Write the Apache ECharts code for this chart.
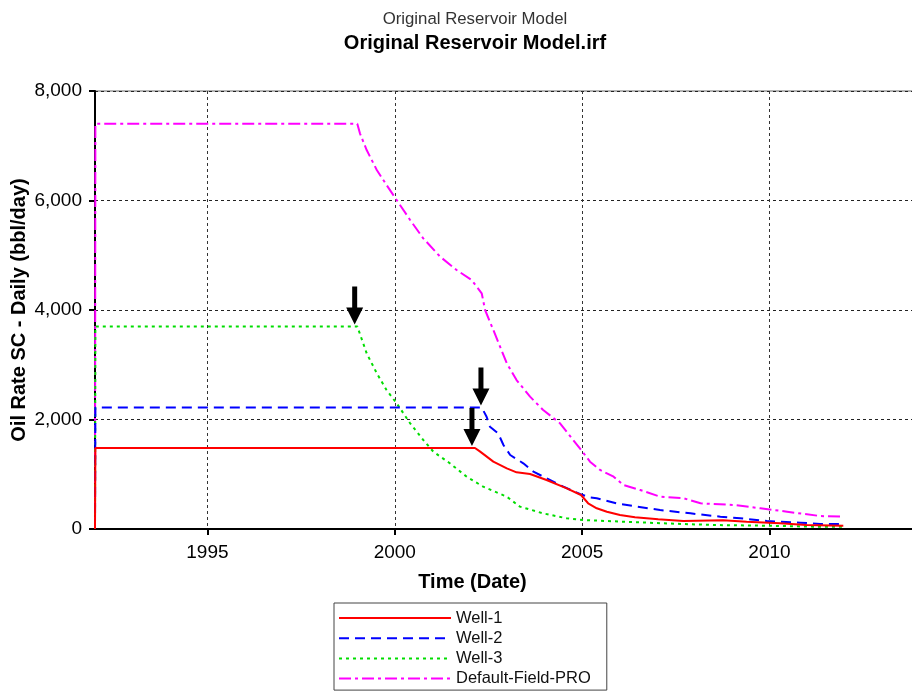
<!DOCTYPE html>
<html>
<head>
<meta charset="utf-8">
<script src="https://cdn.jsdelivr.net/npm/echarts@6/dist/echarts.min.js"></script>
<style>
  html, body { margin: 0; padding: 0; background: #fff; }
  #chart { width: 912px; height: 692px; }
</style>
</head>
<body>
<div id="chart"></div>
<script>
// Oil rate (bbl/day) against decimal year for each well and the field total
const well1 = [
  [1992.0, 0], [1992.01, 1480], [2002.14, 1480], [2002.27, 1417], [2002.63, 1230],
  [2002.99, 1108], [2003.25, 1035], [2003.61, 1005], [2004.05, 895], [2004.59, 743],
  [2004.97, 621], [2005.16, 470], [2005.39, 378], [2005.66, 316], [2006.01, 256],
  [2006.41, 214], [2007.03, 177], [2007.70, 146], [2008.76, 160], [2009.39, 133],
  [2010.28, 104], [2010.99, 73], [2011.97, 61]
];
const well2 = [
  [1992.0, 0], [1992.01, 2220], [2002.32, 2220], [2002.45, 2051], [2002.54, 1869],
  [2002.76, 1747], [2002.90, 1534], [2003.08, 1352], [2003.43, 1200], [2003.70, 1047],
  [2004.05, 926], [2004.50, 773], [2004.94, 639], [2005.21, 575], [2005.39, 560],
  [2005.92, 469], [2006.46, 408], [2007.08, 347], [2007.89, 286], [2008.69, 225],
  [2009.22, 195], [2009.93, 146], [2010.82, 116], [2011.35, 91], [2011.97, 91]
];
const well3 = [
  [1992.0, 0], [1992.01, 3700], [1999.0, 3700], [1999.25, 3209], [1999.52, 2844],
  [1999.78, 2539], [2000.05, 2296], [2000.41, 1931], [2000.76, 1626], [2001.03, 1412],
  [2001.47, 1200], [2001.92, 955], [2002.36, 773], [2002.99, 590], [2003.34, 408],
  [2003.96, 286], [2004.59, 195], [2005.03, 164], [2006.10, 133], [2007.17, 104],
  [2008.50, 73], [2009.84, 61], [2011.17, 43], [2011.96, 40]
];
const fieldTotal = [
  [1992.0, 0], [1992.01, 7400], [1999.0, 7400], [1999.07, 7227], [1999.25, 6922],
  [1999.52, 6557], [1999.78, 6283], [2000.05, 6009], [2000.41, 5644], [2000.76, 5309],
  [2001.21, 4974], [2001.65, 4731], [2002.05, 4548], [2002.32, 4305], [2002.41, 4000],
  [2002.63, 3635], [2002.81, 3330], [2002.99, 3026], [2003.25, 2721], [2003.61, 2417],
  [2003.96, 2174], [2004.41, 1931], [2004.76, 1626], [2005.0, 1420], [2005.21, 1230],
  [2005.48, 1078], [2005.84, 955], [2006.10, 804], [2006.55, 712], [2007.08, 590],
  [2007.71, 560], [2008.16, 469], [2009.05, 438], [2009.76, 378], [2010.47, 316],
  [2011.35, 237], [2011.97, 225]
];

const seriesNames = ['Well-1', 'Well-2', 'Well-3', 'Default-Field-PRO'];
const yearTicks = [1995, 2000, 2005, 2010];

// Points where each well comes off plateau
const onsetWell1 = [2002.06, 1480];
const onsetWell2 = [2002.30, 2220];
const onsetWell3 = [1998.93, 3700];

const arrowPath = 'path://M6,0 L11,0 L11,21 L17,21 L8.5,38 L0,21 L6,21 Z';
function arrowAt(coord) {
  return {
    coord: coord,
    symbol: arrowPath,
    symbolSize: [17, 38],
    symbolOffset: [0, -21],
    symbolKeepAspect: false,
    itemStyle: { color: '#000' },
    label: { show: false }
  };
}

const font = 'Arial, "Liberation Sans", sans-serif';
const chart = echarts.init(document.getElementById('chart'), null, { renderer: 'canvas' });

chart.setOption({
  animation: false,
  backgroundColor: '#fff',
  title: [
    {
      text: 'Original Reservoir Model',
      left: 470, top: 6, textAlign: 'center',
      textStyle: { fontFamily: font, fontSize: 16.8, fontWeight: 'normal', color: '#333' }
    },
    {
      text: 'Original Reservoir Model.irf',
      left: 470, top: 28, textAlign: 'center',
      textStyle: { fontFamily: font, fontSize: 20, fontWeight: 'bold', color: '#000' }
    }
  ],
  grid: {
    left: 95, right: -4, top: 91, bottom: 163,
    outerBoundsMode: 'none',
    show: true, borderColor: '#666', borderWidth: 1, containLabel: false
  },
  legend: {
    orient: 'vertical',
    left: 334, top: 603, height: 120,
    data: seriesNames,
    itemWidth: 112, itemHeight: 14, itemGap: 3.2,
    padding: [6.5, 16, 3, 4],
    borderColor: '#444', borderWidth: 1,
    itemStyle: { color: 'rgba(0,0,0,0)', borderWidth: 0 },
    textStyle: { fontFamily: font, fontSize: 16.5, color: '#111' }
  },
  xAxis: {
    type: 'value',
    min: 1992, max: 2013.91,
    name: 'Time (Date)', nameLocation: 'middle', nameGap: 43,
    nameMoveOverlap: false,
    nameTextStyle: { fontFamily: font, fontSize: 20, fontWeight: 'bold', color: '#000', padding: [0, 66, 0, 0] },
    axisLine: { show: true, onZero: false, lineStyle: { color: '#000', width: 2 } },
    axisTick: { show: true, customValues: yearTicks, length: 6, inside: false, lineStyle: { color: '#000', width: 2 } },
    axisLabel: { customValues: yearTicks, margin: 14, fontFamily: font, fontSize: 19, color: '#000', formatter: v => String(v) },
    splitLine: { show: true, lineStyle: { color: '#333', width: 1, type: [3, 3] } }
  },
  yAxis: {
    type: 'value',
    min: 0, max: 8000, interval: 2000,
    name: 'Oil Rate SC - Daily (bbl/day)', nameLocation: 'middle', nameGap: 66,
    nameMoveOverlap: false,
    nameTextStyle: { fontFamily: font, fontSize: 20, fontWeight: 'bold', color: '#000' },
    axisLine: { show: true, lineStyle: { color: '#000', width: 2 } },
    axisTick: { show: true, length: 6, lineStyle: { color: '#000', width: 2 } },
    axisLabel: {
      margin: 13, fontFamily: font, fontSize: 19, color: '#000',
      formatter: v => v.toLocaleString('en-US')
    },
    splitLine: { show: true, lineStyle: { color: '#222', width: 1, type: [3, 3] } }
  },
  series: [
    {
      name: seriesNames[0], type: 'line', data: well1, showSymbol: false, symbol: 'none',
      lineStyle: { color: '#ff0000', width: 2, type: 'solid' }, itemStyle: { color: '#ff0000' }, z: 5,
      markPoint: { data: [arrowAt(onsetWell1)], animation: false }
    },
    {
      name: seriesNames[1], type: 'line', data: well2, showSymbol: false, symbol: 'none',
      lineStyle: { color: '#0000ff', width: 2, type: [10, 6] }, itemStyle: { color: '#0000ff' }, z: 4,
      markPoint: { data: [arrowAt(onsetWell2)], animation: false }
    },
    {
      name: seriesNames[2], type: 'line', data: well3, showSymbol: false, symbol: 'none',
      lineStyle: { color: '#00dd00', width: 2, type: [3, 4] }, itemStyle: { color: '#00dd00' }, z: 3,
      markPoint: { data: [arrowAt(onsetWell3)], animation: false }
    },
    {
      name: seriesNames[3], type: 'line', data: fieldTotal, showSymbol: false, symbol: 'none',
      lineStyle: { color: '#ff00ff', width: 2, type: [12, 4, 3, 4] }, itemStyle: { color: '#ff00ff' }, z: 2
    }
  ]
});
</script>
</body>
</html>
